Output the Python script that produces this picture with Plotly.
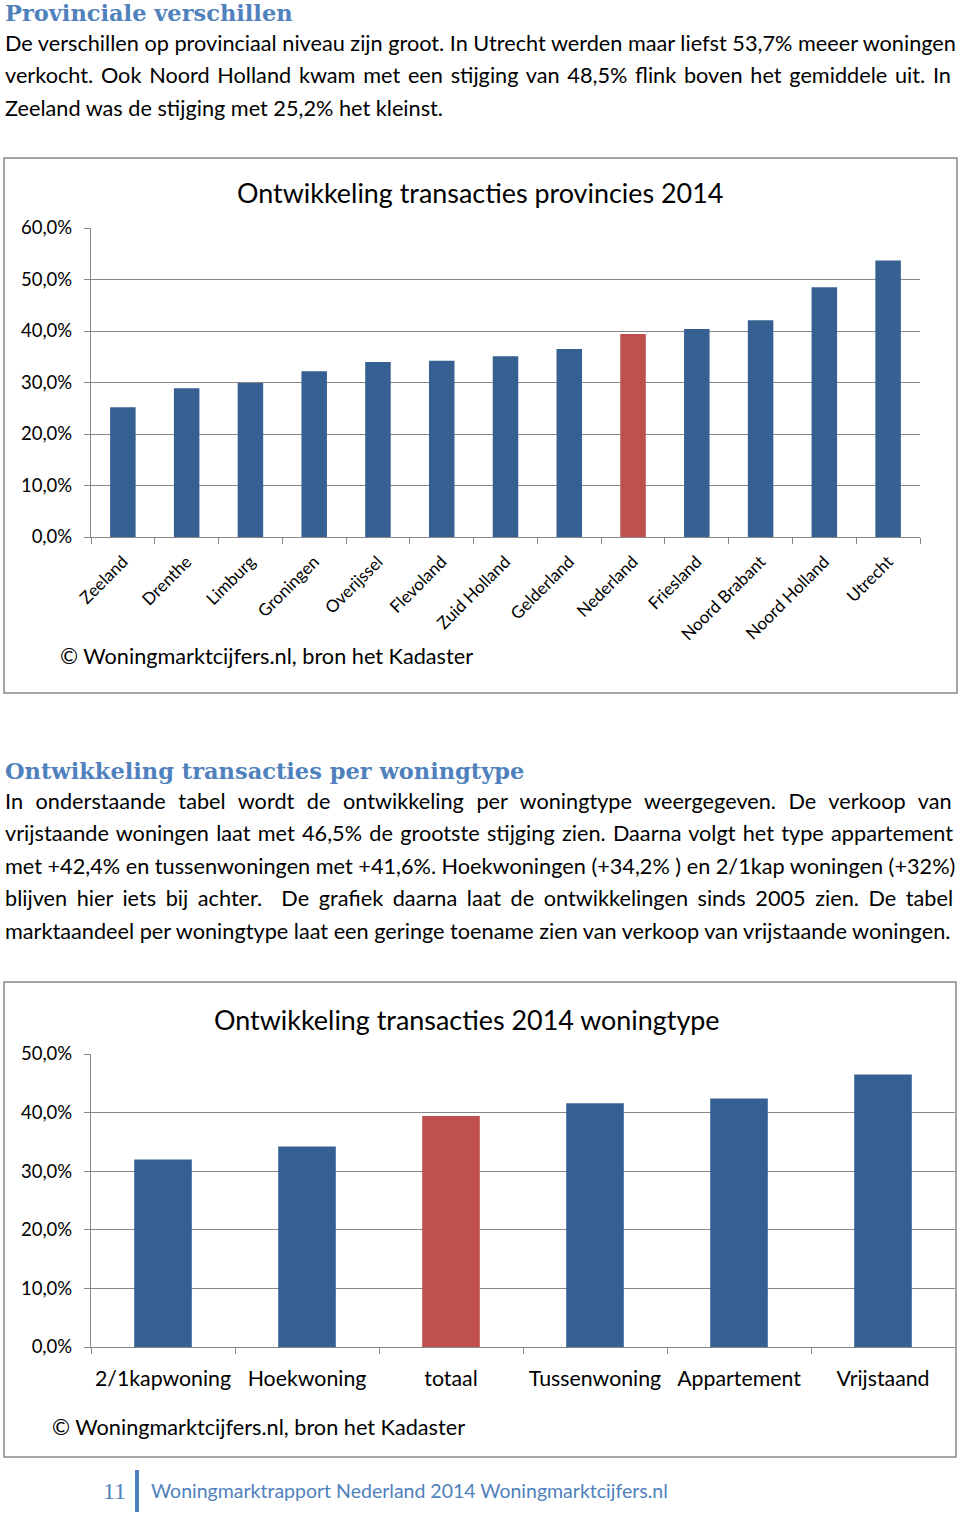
import plotly.graph_objects as go

# ---------------- data ----------------
provinces = ["Zeeland", "Drenthe", "Limburg", "Groningen", "Overijssel", "Flevoland",
             "Zuid Holland", "Gelderland", "Nederland", "Friesland", "Noord Brabant",
             "Noord Holland", "Utrecht"]
province_values = [25.2, 28.9, 29.9, 32.2, 34.0, 34.2, 35.1, 36.5, 39.4, 40.4, 42.1, 48.5, 53.7]
province_highlight = "Nederland"

types = ["2/1kapwoning", "Hoekwoning", "totaal", "Tussenwoning", "Appartement", "Vrijstaand"]
type_values = [32.0, 34.2, 39.4, 41.6, 42.4, 46.5]
type_highlight = "totaal"

y1_ticks = [0, 10, 20, 30, 40, 50, 60]
y1_labels = ["0,0%", "10,0%", "20,0%", "30,0%", "40,0%", "50,0%", "60,0%"]
y2_ticks = [0, 10, 20, 30, 40, 50]
y2_labels = ["0,0%", "10,0%", "20,0%", "30,0%", "40,0%", "50,0%"]

heading1 = "Provinciale verschillen"
para1 = [
    "De verschillen op provinciaal niveau zijn groot. In Utrecht werden maar liefst 53,7% meeer woningen",
    "verkocht. Ook Noord Holland kwam met een stijging van 48,5% flink boven het gemiddele uit. In",
    "Zeeland was de stijging met 25,2% het kleinst.",
]
heading2 = "Ontwikkeling transacties per woningtype"
para2 = [
    "In onderstaande tabel wordt de ontwikkeling per woningtype weergegeven. De verkoop van",
    "vrijstaande woningen laat met 46,5% de grootste stijging zien. Daarna volgt het type appartement",
    "met +42,4% en tussenwoningen met +41,6%. Hoekwoningen (+34,2% ) en 2/1kap woningen (+32%)",
    "blijven hier iets bij achter.  De grafiek daarna laat de ontwikkelingen sinds 2005 zien. De tabel",
    "marktaandeel per woningtype laat een geringe toename zien van verkoop van vrijstaande woningen.",
]
title1 = "Ontwikkeling transacties provincies 2014"
title2 = "Ontwikkeling transacties 2014 woningtype"
source = "© Woningmarktcijfers.nl, bron het Kadaster"
footer_num = "11"
footer_text = "Woningmarktrapport Nederland 2014 Woningmarktcijfers.nl"

# ---------------- style ----------------
W, H = 960, 1517
BLUE = "#376092"
RED = "#C0504D"
HEAD = "#4F81BD"
GRID = "#888888"
SANS = "Lato, 'Open Sans', sans-serif"
SERIF = "'DejaVu Serif', 'Liberation Serif', serif"
# extra word spacing (px) per paragraph line, to mimic the justified text
para1_spacing = [0, 2.2, 0]
para2_spacing = [7.0, 1.7, 0, 4.0, 0]


def px(x):
    return x / W


def py(y):
    return 1 - y / H


fig = go.Figure()
fig.add_trace(go.Bar(
    x=provinces, y=province_values,
    marker=dict(color=[RED if p == province_highlight else BLUE for p in provinces], line=dict(width=0)),
    xaxis="x", yaxis="y", hoverinfo="x+y",
))
fig.add_trace(go.Bar(
    x=types, y=type_values,
    marker=dict(color=[RED if t == type_highlight else BLUE for t in types], line=dict(width=0)),
    xaxis="x2", yaxis="y2", hoverinfo="x+y",
))

axis_common = dict(linecolor=GRID, linewidth=1.3, tickcolor=GRID, ticks="outside", ticklen=6,
                   automargin=False)

fig.update_layout(
    template="none",
    width=W, height=H,
    margin=dict(l=0, r=0, t=0, b=0, pad=0, autoexpand=False),
    paper_bgcolor="white", plot_bgcolor="white",
    showlegend=False, bargap=0.6,
    font=dict(family=SANS, color="#000000"),
    xaxis=dict(domain=[px(91), px(920)], anchor="y", type="category", showline=True,
               tickson="boundaries", tickangle=-45, showgrid=False, ticklabelstandoff=7,
               tickfont=dict(family=SANS, size=17, color="#000"), **axis_common),
    yaxis=dict(domain=[py(537), py(228)], anchor="x", range=[0, 60], tickvals=y1_ticks,
               ticktext=y1_labels, showgrid=True, gridcolor=GRID, gridwidth=1.3, showline=True,
               zeroline=False, ticklabelstandoff=8,
               tickfont=dict(family=SANS, size=18.5, color="#000"), **axis_common),
    xaxis2=dict(domain=[px(91), px(955)], anchor="y2", type="category", showline=True,
                tickson="boundaries", tickangle=0, showgrid=False, ticklabelstandoff=12,
                tickfont=dict(family=SANS, size=21.3, color="#000"), **axis_common),
    yaxis2=dict(domain=[py(1347), py(1054)], anchor="x2", range=[0, 50], tickvals=y2_ticks,
                ticktext=y2_labels, showgrid=True, gridcolor=GRID, gridwidth=1.3, showline=True,
                zeroline=False, ticklabelstandoff=8,
                tickfont=dict(family=SANS, size=18.5, color="#000"), **axis_common),
)

ann = []


def text(t, x, y, size, color="#000", family=SANS, anchor="left", bold=False, spacing=0):
    if spacing:
        t = f'<span style="word-spacing:{spacing}px">{t}</span>'
    ann.append(dict(text=f"<b>{t}</b>" if bold else t, x=px(x), y=py(y), xref="paper", yref="paper",
                    xanchor=anchor, yanchor="middle", showarrow=False,
                    font=dict(family=family, size=size, color=color)))


text(heading1, 3, 13, 22.5, HEAD, SERIF, bold=True)
for i, line in enumerate(para1):
    text(line, 3, 43 + i * 32.3, 21.7, spacing=para1_spacing[i])
text(heading2, 3, 771, 22.5, HEAD, SERIF, bold=True)
for i, line in enumerate(para2):
    text(line, 3, 801 + i * 32.4, 21.7, spacing=para2_spacing[i])

text(title1, 480, 192, 26.9, anchor="center")
text(source, 58, 656, 21.7)
text(title2, 467, 1019, 26.9, anchor="center")
text(source, 50, 1427, 21.7)

text(footer_num, 114, 1491, 24, HEAD, "'Liberation Serif', serif", anchor="center")
text(footer_text, 149, 1490, 19.5, HEAD)

fig.update_layout(annotations=ann)

shapes = [
    dict(type="rect", xref="paper", yref="paper", x0=px(4), x1=px(957), y0=py(693), y1=py(158),
         line=dict(color=GRID, width=1.5), fillcolor="rgba(0,0,0,0)", layer="below"),
    dict(type="rect", xref="paper", yref="paper", x0=px(4), x1=px(956), y0=py(1457), y1=py(982),
         line=dict(color=GRID, width=1.5), fillcolor="rgba(0,0,0,0)", layer="below"),
    dict(type="line", xref="paper", yref="paper", x0=px(137), x1=px(137), y0=py(1470), y1=py(1512),
         line=dict(color=HEAD, width=4)),
]
fig.update_layout(shapes=shapes)

fig.write_html("out.html", config={"displayModeBar": False},
               post_script="document.body.style.margin='0';document.body.style.padding='0';")
